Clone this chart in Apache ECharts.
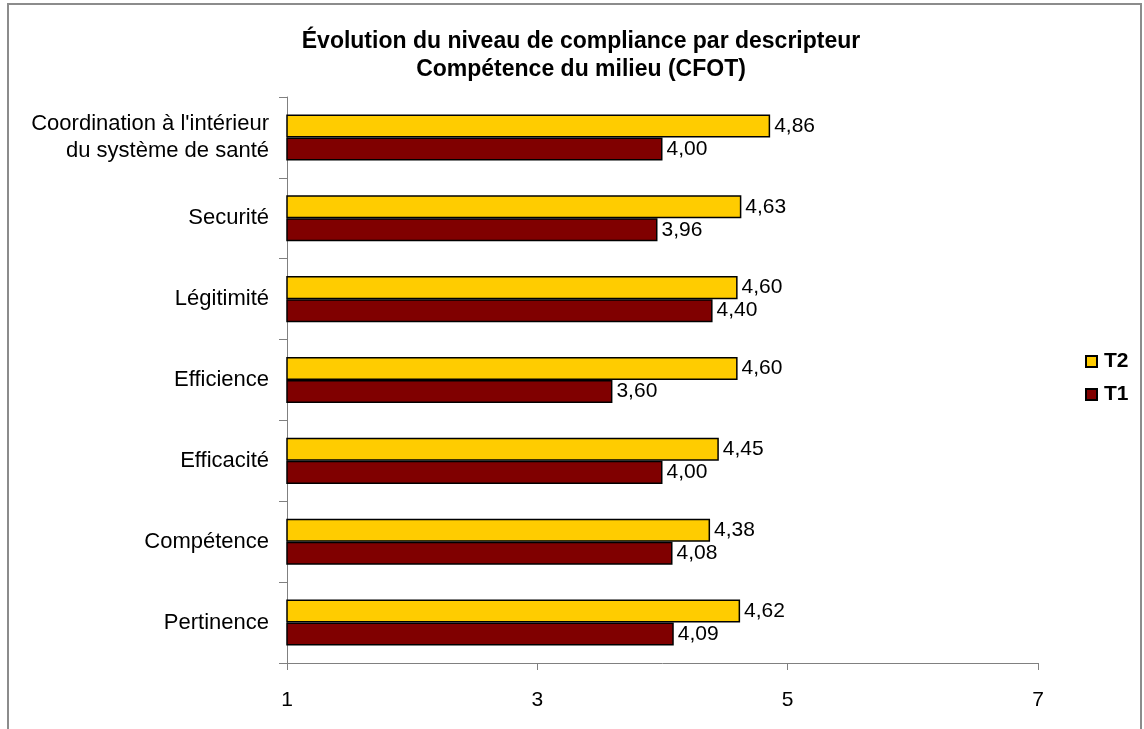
<!DOCTYPE html>
<html>
<head>
<meta charset="utf-8">
<script src="https://cdn.jsdelivr.net/npm/echarts@6/dist/echarts.min.js"></script>
<style>html,body{margin:0;padding:0;background:#fff}#c{width:1144px;height:729px}</style>
</head>
<body>
<div id="c"></div>
<script>
const categories = ["Coordination à l'intérieur\ndu système de santé", "Securité", "Légitimité", "Efficience", "Efficacité", "Compétence", "Pertinence"];
const t2Values = [4.86, 4.63, 4.60, 4.60, 4.45, 4.38, 4.62];
const t1Values = [4.00, 3.96, 4.40, 3.60, 4.00, 4.08, 4.09];
const xTicks = [1, 3, 5, 7];

const FONT = "'Liberation Sans', Arial, sans-serif";
const chart = echarts.init(document.getElementById('c'));
const fmt = p => p.value.toFixed(2).replace('.', ',');
chart.setOption({
  animation: false,
  textStyle: { fontFamily: FONT },
  title: {
    text: 'Évolution du niveau de compliance par descripteur\nCompétence du milieu (CFOT)',
    left: 576, textAlign: 'center', top: 23,
    textStyle: { fontFamily: FONT, fontWeight: 'bold', fontSize: 23, lineHeight: 28, color: '#000' }
  },
  legend: {
    orient: 'vertical', left: 1085, top: 351, padding: 0,
    itemWidth: 11, itemHeight: 11, itemGap: 12,
    icon: 'rect',
    textStyle: { fontFamily: FONT, fontWeight: 'bold', fontSize: 21, color: '#000', padding: [0, 0, 0, 2] },
    data: ['T2', 'T1']
  },
  graphic: [{
    type: 'rect', shape: { x: 8, y: 4, width: 1133, height: 760 },
    style: { fill: 'none', stroke: '#8c8c8c', lineWidth: 2 }, silent: true
  }],
  grid: { left: 287, right: 106, top: 97, bottom: 66 },
  xAxis: {
    type: 'value', min: xTicks[0], max: xTicks[xTicks.length - 1], interval: 2,
    axisLine: { show: true, lineStyle: { color: '#808080', width: 1 } },
    axisTick: { show: true, length: 7, lineStyle: { color: '#808080' } },
    splitLine: { show: false },
    axisLabel: { margin: 27, fontSize: 21, color: '#000', fontFamily: FONT }
  },
  yAxis: {
    type: 'category', inverse: true, data: categories,
    axisLine: { show: true, lineStyle: { color: '#808080', width: 1 } },
    axisTick: { show: true, length: 8, lineStyle: { color: '#808080' } },
    axisLabel: { margin: 18, fontSize: 22, lineHeight: 27, color: '#000', fontFamily: FONT, align: 'right' }
  },
  series: [
    {
      name: 'T2', type: 'bar', data: t2Values, barGap: '0%', barCategoryGap: '43%',
      itemStyle: { color: '#FFCC00', borderColor: '#000', borderWidth: 1.5 },
      label: { show: true, position: 'right', distance: 4, formatter: fmt, fontSize: 21, color: '#000', fontFamily: FONT }
    },
    {
      name: 'T1', type: 'bar', data: t1Values, barGap: '0%', barCategoryGap: '43%',
      itemStyle: { color: '#800000', borderColor: '#000', borderWidth: 1.5 },
      label: { show: true, position: 'right', distance: 4, formatter: fmt, fontSize: 21, color: '#000', fontFamily: FONT }
    }
  ]
});
</script>
</body>
</html>
